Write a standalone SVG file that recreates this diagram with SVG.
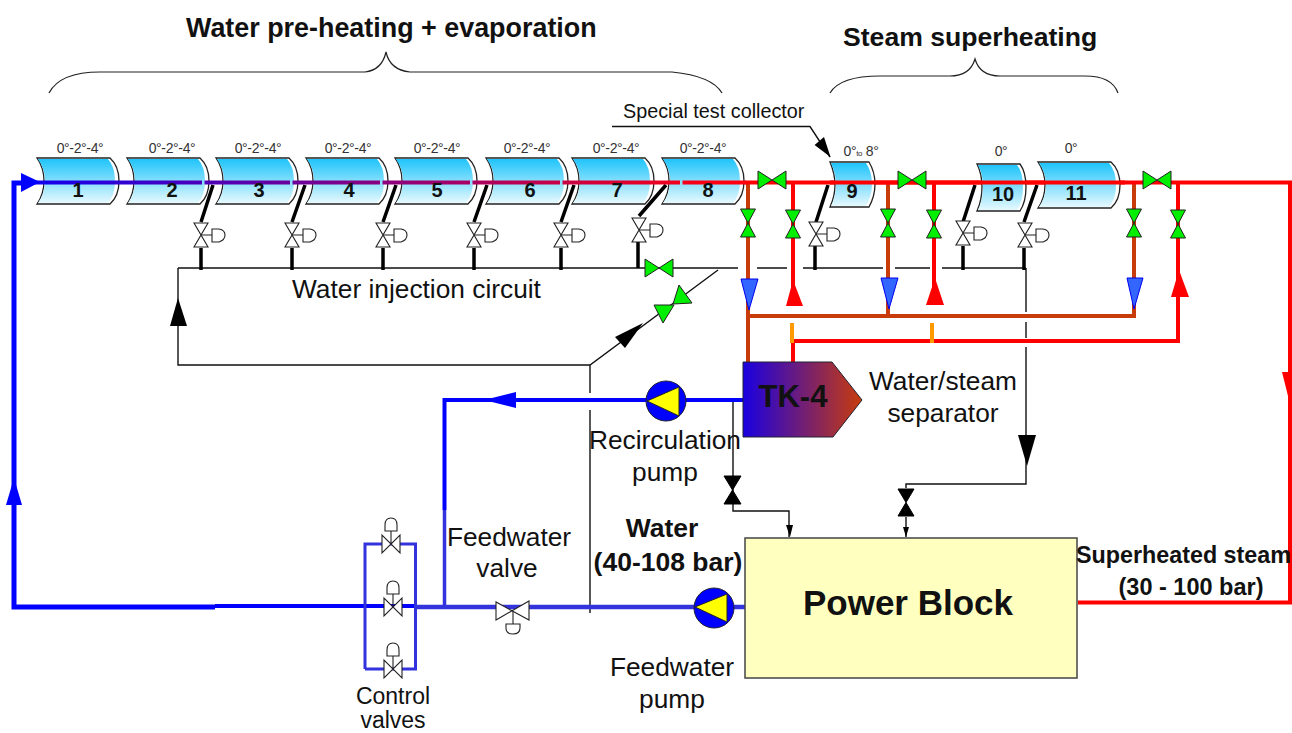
<svg xmlns="http://www.w3.org/2000/svg" width="1292" height="733" viewBox="0 0 1292 733">
<style>
text{font-family:"Liberation Sans",Arial,sans-serif;fill:#111}
.b{font-weight:bold}
.m{text-anchor:middle}
.ang{font-size:14px;fill:#333;text-anchor:middle;letter-spacing:-.35px}
.num{font-size:20px;font-weight:bold;text-anchor:middle}
.lab{font-size:26.300px}
.col{fill:#fff;stroke:#222;stroke-width:1.3}
.fill{fill:url(#cg)}
.thin{fill:none;stroke:#111;stroke-width:1.4}
.thick{fill:none;stroke:#000;stroke-width:3.500}
.brown{fill:none;stroke:#c83c0c;stroke-width:4}
.red{fill:none;stroke:#f00;stroke-width:4}
.org{fill:none;stroke:#f90;stroke-width:4}
.blue{fill:none;stroke:#00f;stroke-width:4}
.fw{fill:none;stroke:#33d;stroke-width:4.500}
.gv{fill:#0e0;stroke:#222;stroke-width:1}
.wv{fill:#fff;stroke:#222;stroke-width:1.1}
.bv{fill:#000;stroke:#000;stroke-width:1}
.ba{fill:#36f;stroke:#00e;stroke-width:1}
.ra{fill:#f00}
.ka{fill:#000}
.pump{fill:#00f;stroke:#223;stroke-width:1}
.ptri{fill:#ff0;stroke:#222;stroke-width:1}
</style>
<defs>
<linearGradient id="cg" x1="0" y1="0" x2="0" y2="1"><stop offset="0" stop-color="#1fc4fb"/><stop offset="1" stop-color="#e6f9fe"/></linearGradient>
<linearGradient id="tk" x1="0" y1="0" x2="1" y2="0"><stop offset="0" stop-color="#1a00e0"/><stop offset="1" stop-color="#c83c0c"/></linearGradient>
<linearGradient id="hot" gradientUnits="userSpaceOnUse" x1="30" y1="0" x2="720" y2="0"><stop offset="0" stop-color="#1000f0"/><stop offset="1" stop-color="#ff0010"/></linearGradient>
<g id="cl"><path class="col" d="M0 0H73Q82 8 82 23T73 46H0Q7 36 7 23T0 0Z"/><path class="fill" d="M1 1H71Q78 9 78 23T71 45H1Q8 35 8 23T1 1Z"/></g>
<g id="vv"><path d="M-7.500 -14H7.500L0 0ZM-7.500 14H7.500L0 0Z"/></g>
<g id="hv"><path d="M-14 -9V9L0 0ZM14 -9V9L0 0Z"/></g>
<g id="wact"><path class="wv" d="M-7 -12H7L-7 12H7Z"/><path class="wv" fill="none" d="M0 0H11V-6H18Q24 -5 24 0T18 7H11V0"/></g>
<g id="cv"><path class="wv" d="M-9 -9V9L9 -9V9Z"/><path class="wv" d="M0 0V-13"/><path class="wv" d="M-6 -13V-19Q-6 -26 0 -26T6 -19V-13Z"/></g>
</defs>

<g id="braces" fill="none" stroke="#222" stroke-width="1.200">
<path d="M49 93Q60 72 100 72H365Q382 70 386 52Q390 70 410 72H672Q712 76 722 93"/>
<path d="M830 93Q840 76 880 76H950Q970 76 975 59Q980 76 1000 76H1085Q1112 76 1118 93"/>
</g>

<g id="connectors">
<path class="thin" d="M178 268H738M757 268H787M803 268H883M895 268H930M942 268H1026M178 268V365H590L718 270M590 365V393M590 410V613"/>
<path class="thin" d="M1026 268V312M1026 322V338M1026 347V484H906V488M906 517V537"/>
<path class="thin" d="M733 400V511H789V537"/>
<path class="thin" d="M612 126.500H810L830 157"/>
<g class="thick">
<path d="M213 185L201 222M201 248V270M305 185L292 222M292 248V270M396 185L383 222M383 248V270M487 185L474 222M474 248V270M574 185L561 222M561 248V270M666 185L639 216M638 241V268M828 185L816 222M815 246V270M975 185L963 222M963 246V270M1037 185L1024 222M1024 248V270"/>
</g>
<path class="blue" stroke-width="5" style="stroke-width:5" d="M30 183H14V607H215"/>
<path class="blue" d="M215 606H416"/>
<path class="fw" d="M416 607H745"/>
<path class="fw" style="stroke-width:3" d="M365 669V544H415.500V669H365"/>
<path class="blue" d="M743 400H444.500V510"/>
<path class="fw" style="stroke-width:3.500" d="M444.500 510V607"/>
<path class="brown" d="M748 182V362M749 316H1134V182M888 182V316"/>
<path class="red" d="M745 182.500H1290V602.500H1078M793 182V290M793 343V362M934 182V295M793 341H1178V182"/>
<path class="org" d="M792 323V343M932 323V343"/>
</g>

<g id="arrows">
<path class="ka" d="M178 298L187 326H170Z"/>
<path class="ka" d="M643 323L615 337L625 348Z"/>
<path class="ka" d="M1027 466L1018 435H1036Z"/>
<path class="ka" d="M790 537L786 525H793Z"/>
<path class="ka" d="M906 537L903 527H909Z"/>
<path class="ka" d="M830.500 157L814.600 145L824 137Z"/>
<path fill="#00f" d="M478 400L510 392V408Z" transform="translate(6 0)"/>
<path fill="#00f" d="M14 478L6 505H22Z"/>
<path class="ba" d="M741 279H758L749 310Z"/>
<path class="ba" d="M881 278H898L889 309Z"/>
<path class="ba" d="M1127 278H1143L1134 309Z"/>
<path class="ra" d="M793 280L803 306H786Z"/>
<path class="ra" d="M935 278L944 305H926Z"/>
<path class="ra" d="M1179 270L1189 297H1171Z"/>
<path class="ra" d="M1282 372H1291V396H1288Z"/>
</g>

<g id="collectors">
<g id="c1"><use href="#cl" x="37" y="158"/><text class="ang" x="80" y="153">0°-2°-4°</text></g>
<g id="c2"><use href="#cl" x="127" y="158"/><text class="ang" x="172" y="153">0°-2°-4°</text></g>
<g id="c3"><use href="#cl" x="216" y="158"/><text class="ang" x="258" y="153">0°-2°-4°</text></g>
<g id="c4"><use href="#cl" x="306" y="158"/><text class="ang" x="348" y="153">0°-2°-4°</text></g>
<g id="c5"><use href="#cl" x="395" y="158"/><text class="ang" x="437" y="153">0°-2°-4°</text></g>
<g id="c6"><use href="#cl" x="486" y="158"/><text class="ang" x="527" y="153">0°-2°-4°</text></g>
<g id="c7"><use href="#cl" x="572" y="158"/><text class="ang" x="616" y="153">0°-2°-4°</text></g>
<g id="c8"><use href="#cl" x="662" y="158"/><text class="ang" x="703" y="153">0°-2°-4°</text></g>
<g id="c9"><path class="col" d="M830 162H869Q875 172 875 184T869 207H830Q835 196 835 185T830 162Z"/><path class="fill" d="M831 163H866Q872 172 872 184T866 206H831Q836 196 836 185T831 163Z"/><text class="ang" x="861" y="156">0°<tspan font-size="8">to</tspan> 8°</text></g>
<g id="c10"><path class="col" d="M977 164H1020Q1026 172 1026 187T1020 211H977Q982 200 982 187T977 164Z"/><path class="fill" d="M978 165H1017Q1023 172 1023 187T1017 210H978Q983 200 983 187T978 165Z"/><text class="ang" x="1001" y="156">0°</text></g>
<g id="c11"><use href="#cl" x="1038" y="162"/><text class="ang" x="1071" y="153">0°</text></g>
<path d="M22 182.500H202M204.500 182.500H290M292.500 182.500H380M382.500 182.500H470M472.500 182.500H560M562.500 182.500H680M682.500 182.500H746" stroke="url(#hot)" stroke-width="3.800" fill="none"/>
<path d="M830 182.500H1125" stroke="#f00" stroke-width="4" fill="none"/>
<g id="collector-numbers">
<text class="num" x="78" y="197">1</text><text class="num" x="172" y="197">2</text><text class="num" x="259" y="197">3</text><text class="num" x="349" y="197">4</text><text class="num" x="437" y="197">5</text><text class="num" x="530" y="197">6</text><text class="num" x="617" y="197">7</text><text class="num" x="708" y="197">8</text><text class="num" x="852" y="198">9</text><text class="num" x="1003" y="201">10</text><text class="num" x="1076" y="200">11</text>
</g>
</g>
<path fill="#00f" d="M40 182L21 173V192Z"/>

<g id="valves-white">
<use href="#wact" x="201" y="235"/><use href="#wact" x="292" y="235"/><use href="#wact" x="383" y="235"/><use href="#wact" x="474" y="235"/><use href="#wact" x="561" y="235"/><use href="#wact" x="639" y="230"/><use href="#wact" x="816" y="234"/><use href="#wact" x="963" y="233"/><use href="#wact" x="1025" y="235"/>
</g>
<g id="valves-green" class="gv">
<use href="#hv" x="772" y="180"/><use href="#hv" x="912" y="180"/><use href="#hv" x="1157" y="180"/><use href="#hv" x="659" y="268"/>
<path d="M654 305H674L663 323ZM679 285L692 303L673 304Z"/>
<use href="#vv" x="748" y="223"/><use href="#vv" x="793" y="224"/><use href="#vv" x="888" y="223"/><use href="#vv" x="934" y="224"/><use href="#vv" x="1134" y="223"/><use href="#vv" x="1178" y="224"/>
</g>
<g id="valves-black" class="bv">
<path d="M724 476H741L724 504H741Z"/><path d="M898 489H914L898 516H914Z"/>
</g>
<g id="control-valves">
<use href="#cv" x="391" y="544"/><use href="#cv" x="393" y="607"/><use href="#cv" x="393" y="669"/>
<path class="wv" d="M496 602V620L529 601V620Z"/><path class="wv" d="M513 611V624"/><path class="wv" d="M506 624H520V628Q520 634 513 634T506 628Z"/>
</g>
<g id="recirc-pump"><circle class="pump" cx="666" cy="401" r="20"/><path class="ptri" d="M647 401L679 387V416Z"/></g>
<g id="feed-pump"><circle class="pump" cx="714" cy="608" r="20"/><path class="ptri" d="M695 607L727 594V622Z"/></g>
<g id="tk4"><path fill="url(#tk)" stroke="#223" d="M743 362H832L862 400L833 437H743Z"/><text class="b m" x="793" y="407" font-size="31">TK-4</text></g>
<g id="power"><rect x="745" y="538" width="332" height="140" fill="#ffffc0" stroke="#444" stroke-width="1.500"/><text class="b m" x="908" y="615" font-size="35">Power Block</text></g>

<g id="labels">
<text class="b" x="186" y="37" font-size="26.900">Water pre-heating + evaporation</text>
<text class="b" x="843" y="46" font-size="26.600">Steam superheating</text>
<text x="623" y="118" font-size="19.800">Special test collector</text>
<text class="lab" x="292" y="298">Water injection circuit</text>
<text class="lab m" x="943" y="390">Water/steam</text>
<text class="lab m" x="943" y="422">separator</text>
<text class="lab m" x="665" y="449">Recirculation</text>
<text class="lab m" x="665" y="481">pump</text>
<text class="lab m" x="509" y="546">Feedwater</text>
<text class="lab m" x="507" y="577">valve</text>
<text class="lab m" x="672" y="676">Feedwater</text>
<text class="lab m" x="672" y="708">pump</text>
<text class="m" x="393" y="704" font-size="23">Control</text>
<text class="m" x="393" y="728" font-size="23">valves</text>
<text class="b m" x="662" y="537" font-size="26.500">Water</text>
<text class="b m" x="668" y="571" font-size="26.500">(40-108 bar)</text>
<text class="b" x="1076" y="563" font-size="23.300">Superheated steam</text>
<text class="b m" x="1191" y="595" font-size="23.500">(30 - 100 bar)</text>
</g>
</svg>
